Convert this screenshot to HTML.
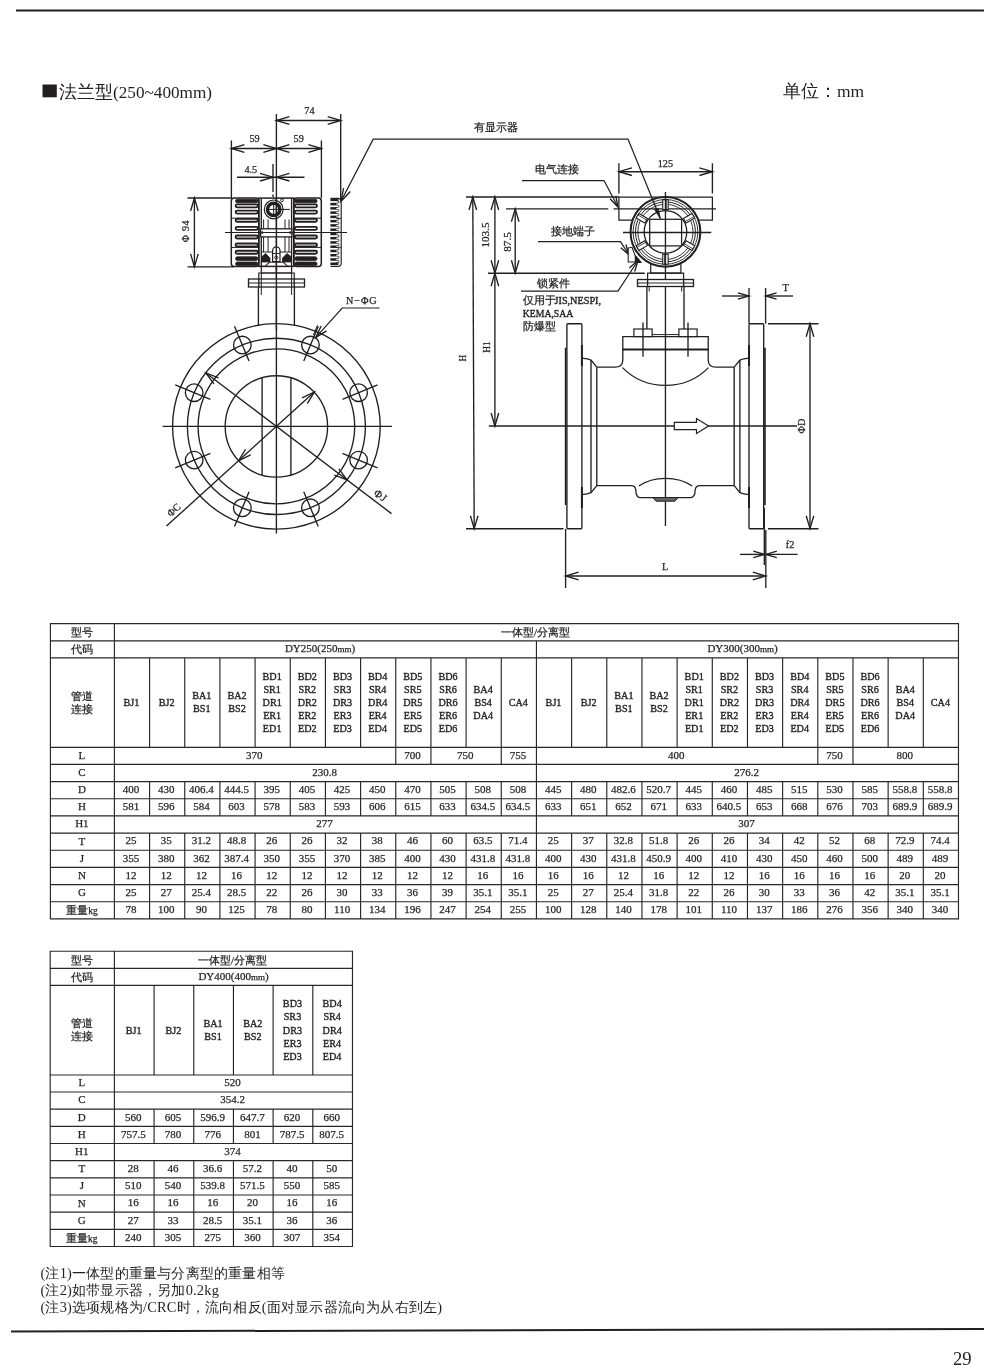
<!DOCTYPE html>
<html><head><meta charset="utf-8"><title>p29</title>
<style>
html,body{margin:0;padding:0;background:#fff;}
body{width:1000px;height:1372px;position:relative;overflow:hidden;font-family:"Liberation Serif",serif;color:#231f20;}
.abs{position:absolute;}
.title{left:59px;top:80.5px;font-size:17.2px;line-height:22px;white-space:nowrap;}
.unit{left:783px;top:80px;font-size:17.5px;line-height:22px;white-space:nowrap;}
.notes{left:40.5px;top:1265.3px;font-size:14.4px;line-height:17px;letter-spacing:0.2px;white-space:nowrap;}
.pg{left:953px;top:1349px;font-size:18.6px;line-height:20px;}
svg text{font-family:"Liberation Serif",serif;fill:#231f20;}
</style></head>
<body>
<div id="wrap" style="position:absolute;left:0;top:0;width:1000px;height:1372px;will-change:transform;">
<svg class="abs" style="left:0;top:0" width="1000" height="1372" viewBox="0 0 1000 1372">
<line x1="16" y1="10.5" x2="984" y2="10.5" stroke="#231f20" stroke-width="2"/>
<line x1="11" y1="1331.5" x2="984" y2="1329" stroke="#231f20" stroke-width="2"/>
<rect x="42.5" y="84.5" width="14.3" height="12.8" fill="#231f20"/>
<g stroke="#231f20" fill="none" stroke-linecap="butt" stroke-linejoin="miter">
<line x1="276.40" y1="114.00" x2="276.40" y2="533.50" stroke-width="1.35"/>
<line x1="340.70" y1="114.00" x2="340.70" y2="199.50" stroke-width="1.35"/>
<line x1="276.40" y1="120.50" x2="340.70" y2="120.50" stroke-width="1.35"/>
<path d="M289.40 116.70L276.40 120.50L289.40 124.30" stroke-width="1.35" fill="none"/>
<path d="M327.70 124.30L340.70 120.50L327.70 116.70" stroke-width="1.35" fill="none"/>
<text transform="translate(309.40,113.60)" font-size="10.2" text-anchor="middle" stroke-width="0.25">74</text>
<line x1="231.40" y1="140.50" x2="231.40" y2="198.00" stroke-width="1.35"/>
<line x1="321.40" y1="140.50" x2="321.40" y2="198.00" stroke-width="1.35"/>
<line x1="231.40" y1="148.50" x2="276.40" y2="148.50" stroke-width="1.35"/>
<path d="M244.40 144.70L231.40 148.50L244.40 152.30" stroke-width="1.35" fill="none"/>
<path d="M263.40 152.30L276.40 148.50L263.40 144.70" stroke-width="1.35" fill="none"/>
<line x1="276.40" y1="148.50" x2="321.40" y2="148.50" stroke-width="1.35"/>
<path d="M289.40 144.70L276.40 148.50L289.40 152.30" stroke-width="1.35" fill="none"/>
<path d="M308.40 152.30L321.40 148.50L308.40 144.70" stroke-width="1.35" fill="none"/>
<text transform="translate(254.50,142.00)" font-size="10.2" text-anchor="middle" stroke-width="0.25">59</text>
<text transform="translate(298.70,142.00)" font-size="10.2" text-anchor="middle" stroke-width="0.25">59</text>
<line x1="237.00" y1="177.20" x2="304.50" y2="177.20" stroke-width="1.35"/>
<path d="M260.00 181.00L273.00 177.20L260.00 173.40" stroke-width="1.35" fill="none"/>
<path d="M289.40 173.40L276.40 177.20L289.40 181.00" stroke-width="1.35" fill="none"/>
<line x1="273.00" y1="164.00" x2="273.00" y2="192.00" stroke-width="1.35"/>
<line x1="273.00" y1="194.50" x2="273.00" y2="197.00" stroke-width="1.35"/>
<text transform="translate(250.80,172.50)" font-size="10.2" text-anchor="middle" stroke-width="0.25">4.5</text>
<line x1="187.50" y1="198.00" x2="232.00" y2="198.00" stroke-width="1.35"/>
<line x1="187.50" y1="266.90" x2="234.00" y2="266.90" stroke-width="1.35"/>
<line x1="194.40" y1="198.00" x2="194.40" y2="266.90" stroke-width="1.35"/>
<path d="M198.20 211.00L194.40 198.00L190.60 211.00" stroke-width="1.35" fill="none"/>
<path d="M190.60 253.90L194.40 266.90L198.20 253.90" stroke-width="1.35" fill="none"/>
<text transform="translate(189,231) rotate(-90)" font-size="10" text-anchor="middle" stroke-width="0.25" letter-spacing="0.7">Φ 94</text>
<line x1="225.00" y1="232.50" x2="347.00" y2="232.50" stroke-width="1.1"/>
<rect x="231.30" y="198.10" width="27.50" height="68.30" rx="3" stroke-width="1.5" fill="none"/>
<line x1="231.30" y1="218.20" x2="258.80" y2="218.20" stroke-width="1.0"/>
<line x1="231.30" y1="247.40" x2="258.80" y2="247.40" stroke-width="1.0"/>
<rect x="235.60" y="199.20" width="22.20" height="3.60" rx="1.6" stroke-width="0.8" fill="#231f20"/>
<rect x="235.60" y="256.80" width="22.20" height="3.60" rx="1.6" stroke-width="0.8" fill="#231f20"/>
<rect x="235.60" y="262.00" width="22.20" height="3.60" rx="1.6" stroke-width="0.8" fill="#231f20"/>
<rect x="235.60" y="204.30" width="22.20" height="3.00" rx="1.5" stroke-width="1.85" fill="none"/>
<rect x="235.60" y="210.60" width="22.20" height="3.00" rx="1.5" stroke-width="1.85" fill="none"/>
<rect x="235.60" y="218.70" width="22.20" height="3.00" rx="1.5" stroke-width="1.85" fill="none"/>
<rect x="235.60" y="226.80" width="22.20" height="3.00" rx="1.5" stroke-width="1.85" fill="none"/>
<rect x="235.60" y="235.50" width="22.20" height="3.00" rx="1.5" stroke-width="1.85" fill="none"/>
<rect x="235.60" y="243.50" width="22.20" height="3.00" rx="1.5" stroke-width="1.85" fill="none"/>
<rect x="235.60" y="250.70" width="22.20" height="3.00" rx="1.5" stroke-width="1.85" fill="none"/>
<rect x="293.80" y="198.10" width="27.50" height="68.30" rx="3" stroke-width="1.5" fill="none"/>
<line x1="293.80" y1="218.20" x2="321.30" y2="218.20" stroke-width="1.0"/>
<line x1="293.80" y1="247.40" x2="321.30" y2="247.40" stroke-width="1.0"/>
<rect x="294.80" y="199.20" width="22.20" height="3.60" rx="1.6" stroke-width="0.8" fill="#231f20"/>
<rect x="294.80" y="256.80" width="22.20" height="3.60" rx="1.6" stroke-width="0.8" fill="#231f20"/>
<rect x="294.80" y="262.00" width="22.20" height="3.60" rx="1.6" stroke-width="0.8" fill="#231f20"/>
<rect x="294.80" y="204.30" width="22.20" height="3.00" rx="1.5" stroke-width="1.85" fill="none"/>
<rect x="294.80" y="210.60" width="22.20" height="3.00" rx="1.5" stroke-width="1.85" fill="none"/>
<rect x="294.80" y="218.70" width="22.20" height="3.00" rx="1.5" stroke-width="1.85" fill="none"/>
<rect x="294.80" y="226.80" width="22.20" height="3.00" rx="1.5" stroke-width="1.85" fill="none"/>
<rect x="294.80" y="235.50" width="22.20" height="3.00" rx="1.5" stroke-width="1.85" fill="none"/>
<rect x="294.80" y="243.50" width="22.20" height="3.00" rx="1.5" stroke-width="1.85" fill="none"/>
<rect x="294.80" y="250.70" width="22.20" height="3.00" rx="1.5" stroke-width="1.85" fill="none"/>
<rect x="258.80" y="198.10" width="35.00" height="68.30" rx="0" stroke-width="1.5" fill="none"/>
<line x1="261.30" y1="199.00" x2="261.30" y2="266.00" stroke-width="1.35"/>
<line x1="291.60" y1="199.00" x2="291.60" y2="266.00" stroke-width="1.35"/>
<circle cx="273.70" cy="209.40" r="9.40" stroke-width="1.2" fill="none"/>
<circle cx="273.70" cy="209.40" r="6.20" stroke-width="3.4" fill="none"/>
<line x1="273.70" y1="203.00" x2="273.70" y2="216.00" stroke-width="1.0"/>
<line x1="266.00" y1="209.40" x2="290.00" y2="209.40" stroke-width="1.0"/>
<circle cx="282.00" cy="200.20" r="1.40" stroke-width="0.9" fill="none"/>
<line x1="263.60" y1="219.50" x2="263.60" y2="252.00" stroke-width="1.0"/>
<line x1="268.10" y1="219.50" x2="268.10" y2="252.00" stroke-width="1.0"/>
<line x1="285.00" y1="219.50" x2="285.00" y2="252.00" stroke-width="1.0"/>
<line x1="289.00" y1="219.50" x2="289.00" y2="252.00" stroke-width="1.0"/>
<rect x="260.60" y="228.80" width="31.30" height="8.10" rx="0" stroke-width="1.3" fill="#fff"/>
<line x1="262.00" y1="232.50" x2="290.50" y2="232.50" stroke-width="1.0"/>
<circle cx="262.20" cy="232.50" r="0.90" stroke-width="0.8" fill="#231f20"/>
<circle cx="290.30" cy="232.50" r="0.90" stroke-width="0.8" fill="#231f20"/>
<line x1="276.40" y1="198.00" x2="276.40" y2="270.00" stroke-width="1.35"/>
<line x1="261.30" y1="252.00" x2="291.60" y2="252.00" stroke-width="1.0"/>
<path d="M261.5 262L261.5 257L265.5 253.5L270 258L270 262Z" stroke-width="0.8" fill="#231f20"/>
<path d="M282.5 262L282.5 258L287 253.5L291.5 257L291.5 262Z" stroke-width="0.8" fill="#231f20"/>
<path d="M272.6 261.5V250.5A3.7 3.7 0 0 1 280 250.5V261.5Z" stroke-width="1.2" fill="#fff"/>
<line x1="276.30" y1="247.00" x2="276.30" y2="262.00" stroke-width="1.35"/>
<line x1="272.60" y1="253.50" x2="280.00" y2="253.50" stroke-width="0.9"/>
<circle cx="276.30" cy="257.50" r="1.60" stroke-width="0.9" fill="none"/>
<path d="M261.3 266.3L265 266.3L269.5 262.3H283.3L287.8 266.3L291.6 266.3" stroke-width="1.1" fill="none"/>
<path d="M261.3 266.3V273H291.6V266.3" stroke-width="1.2" fill="none"/>
<path d="M258.8 279V273H294.2V279" stroke-width="1.2" fill="none"/>
<rect x="248.50" y="279.00" width="56.00" height="8.00" rx="0" stroke-width="1.3" fill="#fff"/>
<line x1="248.50" y1="283.00" x2="304.50" y2="283.00" stroke-width="1.0"/>
<line x1="258.80" y1="279.00" x2="258.80" y2="287.00" stroke-width="1.35"/>
<line x1="294.20" y1="279.00" x2="294.20" y2="287.00" stroke-width="1.35"/>
<line x1="261.30" y1="273.00" x2="261.30" y2="295.00" stroke-width="1.0"/>
<line x1="291.60" y1="273.00" x2="291.60" y2="295.00" stroke-width="1.0"/>
<line x1="276.40" y1="266.00" x2="276.40" y2="330.00" stroke-width="1.35"/>
<line x1="258.40" y1="287.00" x2="258.40" y2="325.50" stroke-width="1.35"/>
<line x1="294.40" y1="287.00" x2="294.40" y2="325.50" stroke-width="1.35"/>
<path d="M330.6 198.4H337.8Q341.2 198.4 341.2 202V263Q341.2 266.4 337.8 266.4H330.6" stroke-width="1.15" fill="none"/>
<path d="M336 218.3L341.2 218.3" stroke-width="0.9" fill="none"/>
<path d="M336 247.3L341.2 247.3" stroke-width="0.9" fill="none"/>
<rect x="330.40" y="198.60" width="8.00" height="2.50" rx="0" stroke-width="0" fill="#231f20"/>
<path d="M336 200.70H337.2Q339 200.70 339 201.98Q339 203.26 337.2 203.26H336" stroke-width="0.9" fill="none"/>
<rect x="330.40" y="202.86" width="5.60" height="2.50" rx="0" stroke-width="0" fill="#231f20"/>
<path d="M336 204.96H337.2Q339 204.96 339 206.24Q339 207.52 337.2 207.52H336" stroke-width="0.9" fill="none"/>
<rect x="330.40" y="207.12" width="5.60" height="2.50" rx="0" stroke-width="0" fill="#231f20"/>
<path d="M336 209.22H337.2Q339 209.22 339 210.50Q339 211.78 337.2 211.78H336" stroke-width="0.9" fill="none"/>
<rect x="330.40" y="211.38" width="5.60" height="2.50" rx="0" stroke-width="0" fill="#231f20"/>
<path d="M336 213.48H337.2Q339 213.48 339 214.76Q339 216.04 337.2 216.04H336" stroke-width="0.9" fill="none"/>
<rect x="330.40" y="215.64" width="5.60" height="2.50" rx="0" stroke-width="0" fill="#231f20"/>
<path d="M336 217.74H337.2Q339 217.74 339 219.02Q339 220.30 337.2 220.30H336" stroke-width="0.9" fill="none"/>
<rect x="330.40" y="219.90" width="5.60" height="2.50" rx="0" stroke-width="0" fill="#231f20"/>
<path d="M336 222.00H337.2Q339 222.00 339 223.28Q339 224.56 337.2 224.56H336" stroke-width="0.9" fill="none"/>
<rect x="330.40" y="224.16" width="5.60" height="2.50" rx="0" stroke-width="0" fill="#231f20"/>
<path d="M336 226.26H337.2Q339 226.26 339 227.54Q339 228.82 337.2 228.82H336" stroke-width="0.9" fill="none"/>
<rect x="330.40" y="228.42" width="5.60" height="2.50" rx="0" stroke-width="0" fill="#231f20"/>
<path d="M336 230.52H337.2Q339 230.52 339 231.80Q339 233.08 337.2 233.08H336" stroke-width="0.9" fill="none"/>
<rect x="330.40" y="232.68" width="5.60" height="2.50" rx="0" stroke-width="0" fill="#231f20"/>
<path d="M336 234.78H337.2Q339 234.78 339 236.06Q339 237.34 337.2 237.34H336" stroke-width="0.9" fill="none"/>
<rect x="330.40" y="236.94" width="5.60" height="2.50" rx="0" stroke-width="0" fill="#231f20"/>
<path d="M336 239.04H337.2Q339 239.04 339 240.32Q339 241.60 337.2 241.60H336" stroke-width="0.9" fill="none"/>
<rect x="330.40" y="241.20" width="5.60" height="2.50" rx="0" stroke-width="0" fill="#231f20"/>
<path d="M336 243.30H337.2Q339 243.30 339 244.58Q339 245.86 337.2 245.86H336" stroke-width="0.9" fill="none"/>
<rect x="330.40" y="245.46" width="5.60" height="2.50" rx="0" stroke-width="0" fill="#231f20"/>
<path d="M336 247.56H337.2Q339 247.56 339 248.84Q339 250.12 337.2 250.12H336" stroke-width="0.9" fill="none"/>
<rect x="330.40" y="249.72" width="5.60" height="2.50" rx="0" stroke-width="0" fill="#231f20"/>
<path d="M336 251.82H337.2Q339 251.82 339 253.10Q339 254.38 337.2 254.38H336" stroke-width="0.9" fill="none"/>
<rect x="330.40" y="253.98" width="5.60" height="2.50" rx="0" stroke-width="0" fill="#231f20"/>
<path d="M336 256.08H337.2Q339 256.08 339 257.36Q339 258.64 337.2 258.64H336" stroke-width="0.9" fill="none"/>
<rect x="330.40" y="258.24" width="5.60" height="2.50" rx="0" stroke-width="0" fill="#231f20"/>
<path d="M336 260.34H337.2Q339 260.34 339 261.62Q339 262.90 337.2 262.90H336" stroke-width="0.9" fill="none"/>
<rect x="330.40" y="262.50" width="8.00" height="2.50" rx="0" stroke-width="0" fill="#231f20"/>
<ellipse cx="276.40" cy="426.40" rx="103.80" ry="102.76" stroke-width="1.35"/>
<ellipse cx="276.40" cy="426.40" rx="89.00" ry="88.11" stroke-width="1.35"/>
<ellipse cx="276.40" cy="426.40" rx="78.30" ry="77.52" stroke-width="1.35"/>
<ellipse cx="276.40" cy="426.40" rx="51.20" ry="50.69" stroke-width="1.35"/>
<line x1="262.10" y1="377.80" x2="262.10" y2="475.20" stroke-width="1.35"/>
<line x1="290.90" y1="377.80" x2="290.90" y2="475.20" stroke-width="1.35"/>
<line x1="162.60" y1="426.40" x2="392.00" y2="426.40" stroke-width="1.35"/>
<circle cx="310.46" cy="345.00" r="8.80" stroke-width="1.35" fill="none"/>
<line x1="303.76" y1="361.00" x2="318.30" y2="326.25" stroke-width="1.35"/>
<circle cx="358.63" cy="392.68" r="8.80" stroke-width="1.35" fill="none"/>
<line x1="342.46" y1="399.31" x2="377.56" y2="384.92" stroke-width="1.35"/>
<circle cx="358.63" cy="460.12" r="8.80" stroke-width="1.35" fill="none"/>
<line x1="342.46" y1="453.49" x2="377.56" y2="467.88" stroke-width="1.35"/>
<circle cx="310.46" cy="507.80" r="8.80" stroke-width="1.35" fill="none"/>
<line x1="303.76" y1="491.80" x2="318.30" y2="526.55" stroke-width="1.35"/>
<circle cx="242.34" cy="507.80" r="8.80" stroke-width="1.35" fill="none"/>
<line x1="249.04" y1="491.80" x2="234.50" y2="526.55" stroke-width="1.35"/>
<circle cx="194.17" cy="460.12" r="8.80" stroke-width="1.35" fill="none"/>
<line x1="210.34" y1="453.49" x2="175.24" y2="467.88" stroke-width="1.35"/>
<circle cx="194.17" cy="392.68" r="8.80" stroke-width="1.35" fill="none"/>
<line x1="210.34" y1="399.31" x2="175.24" y2="384.92" stroke-width="1.35"/>
<circle cx="242.34" cy="345.00" r="8.80" stroke-width="1.35" fill="none"/>
<line x1="249.04" y1="361.00" x2="234.50" y2="326.25" stroke-width="1.35"/>
<line x1="166.50" y1="526.05" x2="314.33" y2="392.01" stroke-width="1.35"/>
<path d="M307.25 403.56L314.33 392.01L302.15 397.93" stroke-width="1.35" fill="none"/>
<path d="M245.55 449.24L238.47 460.79L250.65 454.87" stroke-width="1.35" fill="none"/>
<text transform="translate(176.00,512.50) rotate(-42)" font-size="10.2" text-anchor="middle" stroke-width="0.25">ΦC</text>
<line x1="205.85" y1="372.96" x2="391.50" y2="513.59" stroke-width="1.35"/>
<path d="M218.51 377.78L205.85 372.96L213.92 383.84" stroke-width="1.35" fill="none"/>
<path d="M334.29 475.02L346.95 479.84L338.88 468.96" stroke-width="1.35" fill="none"/>
<text transform="translate(378.5,498.5) rotate(37)" font-size="10.8" text-anchor="middle" stroke-width="0.25" letter-spacing="0.8">ΦJ</text>
<path d="M379.5 308H342.2L315.8 337.4" stroke-width="1.2" fill="none"/>
<path d="M321.15 326.07L315.80 337.40L326.50 330.89" stroke-width="1.35" fill="none"/>
<line x1="317.50" y1="325.20" x2="313.30" y2="335.20" stroke-width="1.0"/>
<text x="361.8" y="303.8" font-size="10.2" text-anchor="middle" stroke-width="0.25" letter-spacing="0.9">N−ΦG</text>
<line x1="618.90" y1="163.30" x2="618.90" y2="193.50" stroke-width="1.35"/>
<line x1="712.40" y1="163.30" x2="712.40" y2="193.50" stroke-width="1.35"/>
<line x1="618.90" y1="171.70" x2="712.40" y2="171.70" stroke-width="1.35"/>
<path d="M631.90 167.90L618.90 171.70L631.90 175.50" stroke-width="1.35" fill="none"/>
<path d="M699.40 175.50L712.40 171.70L699.40 167.90" stroke-width="1.35" fill="none"/>
<text transform="translate(665.40,166.80)" font-size="10.2" text-anchor="middle" stroke-width="0.25">125</text>
<path d="M696.6 220H712.4V197H618.9V220H634.3" stroke-width="1.25" fill="none"/>
<line x1="466.00" y1="197.00" x2="618.90" y2="197.00" stroke-width="1.35"/>
<line x1="506.00" y1="208.80" x2="608.30" y2="208.80" stroke-width="1.35"/>
<circle cx="665.45" cy="231.90" r="34.90" stroke-width="2.0" fill="#fff"/>
<circle cx="665.45" cy="231.90" r="32.40" stroke-width="0.9" fill="none"/>
<circle cx="665.45" cy="231.90" r="30.00" stroke-width="1.0" fill="none"/>
<circle cx="665.45" cy="231.90" r="27.60" stroke-width="0.9" fill="none"/>
<circle cx="665.45" cy="231.90" r="21.30" stroke-width="1.3" fill="none"/>
<line x1="613.50" y1="208.80" x2="716.00" y2="208.80" stroke-width="1.35"/>
<path d="M668.15 209.60L668.15 199.60L662.75 199.60L662.75 209.60Z" stroke-width="1.1" fill="#fff"/>
<line x1="666.35" y1="209.60" x2="666.35" y2="199.60" stroke-width="0.8"/>
<path d="M686.11 223.09L694.77 218.09L692.07 213.41L683.41 218.41Z" stroke-width="1.1" fill="#fff"/>
<line x1="685.21" y1="221.53" x2="693.87" y2="216.53" stroke-width="0.8"/>
<path d="M683.41 245.39L692.07 250.39L694.77 245.71L686.11 240.71Z" stroke-width="1.1" fill="#fff"/>
<line x1="684.31" y1="243.83" x2="692.97" y2="248.83" stroke-width="0.8"/>
<path d="M662.75 254.20L662.75 264.20L668.15 264.20L668.15 254.20Z" stroke-width="1.1" fill="#fff"/>
<line x1="664.55" y1="254.20" x2="664.55" y2="264.20" stroke-width="0.8"/>
<path d="M644.79 240.71L636.13 245.71L638.83 250.39L647.49 245.39Z" stroke-width="1.1" fill="#fff"/>
<line x1="645.69" y1="242.27" x2="637.03" y2="247.27" stroke-width="0.8"/>
<path d="M647.49 218.41L638.83 213.41L636.13 218.09L644.79 223.09Z" stroke-width="1.1" fill="#fff"/>
<line x1="646.59" y1="219.97" x2="637.93" y2="214.97" stroke-width="0.8"/>
<rect x="649.70" y="219.30" width="31.90" height="26.60" rx="0" stroke-width="1.25" fill="none"/>
<line x1="623.00" y1="232.50" x2="711.30" y2="232.50" stroke-width="1.35"/>
<line x1="665.45" y1="192.00" x2="665.45" y2="526.00" stroke-width="1.35"/>
<line x1="472.80" y1="197.00" x2="474.20" y2="528.70" stroke-width="1.35"/>
<path d="M476.60 210.00L472.80 197.00L469.00 210.00" stroke-width="1.35" fill="none"/>
<path d="M470.40 515.70L474.20 528.70L478.00 515.70" stroke-width="1.35" fill="none"/>
<line x1="466.00" y1="528.70" x2="563.50" y2="528.70" stroke-width="1.35"/>
<line x1="494.90" y1="197.00" x2="494.90" y2="273.20" stroke-width="1.35"/>
<path d="M498.70 210.00L494.90 197.00L491.10 210.00" stroke-width="1.35" fill="none"/>
<path d="M491.10 260.20L494.90 273.20L498.70 260.20" stroke-width="1.35" fill="none"/>
<line x1="488.00" y1="273.20" x2="644.80" y2="273.20" stroke-width="1.35"/>
<line x1="515.20" y1="208.80" x2="515.20" y2="273.20" stroke-width="1.35"/>
<path d="M519.00 221.80L515.20 208.80L511.40 221.80" stroke-width="1.35" fill="none"/>
<path d="M511.40 260.20L515.20 273.20L519.00 260.20" stroke-width="1.35" fill="none"/>
<line x1="494.90" y1="273.20" x2="494.90" y2="426.00" stroke-width="1.35"/>
<path d="M498.70 286.20L494.90 273.20L491.10 286.20" stroke-width="1.35" fill="none"/>
<path d="M491.10 413.00L494.90 426.00L498.70 413.00" stroke-width="1.35" fill="none"/>
<text transform="translate(489.30,235.00) rotate(-90)" font-size="11.2" text-anchor="middle" stroke-width="0.25">103.5</text>
<text transform="translate(510.90,242.00) rotate(-90)" font-size="11.2" text-anchor="middle" stroke-width="0.25">87.5</text>
<text transform="translate(466.00,358.10) rotate(-90) scale(0.8,1)" font-size="11.4" text-anchor="middle" stroke-width="0.25">H</text>
<text transform="translate(490.00,347.10) rotate(-90) scale(0.82,1)" font-size="11.4" text-anchor="middle" stroke-width="0.25">H1</text>
<line x1="488.80" y1="426.00" x2="797.00" y2="426.00" stroke-width="1.35"/>
<path d="M522 180.5H604L618 207" stroke-width="1.25" fill="none"/>
<path d="M610.08 198.72L618.00 207.00L615.76 195.77" stroke-width="1.35" fill="none"/>
<path d="M538 241.6H620.5L628.7 254.5" stroke-width="1.25" fill="none"/>
<path d="M620.80 247.68L628.70 254.50L625.86 244.45" stroke-width="1.35" fill="none"/>
<path d="M521 291.2H618L638 260.5" stroke-width="1.2" fill="none"/>
<path d="M634.69 271.47L638.00 260.50L629.33 267.98" stroke-width="1.35" fill="none"/>
<text transform="translate(535.00,172.70)" font-size="10.5" text-anchor="start" stroke-width="0.25">电气连接</text>
<text transform="translate(550.50,235.00)" font-size="10.5" text-anchor="start" stroke-width="0.25">接地端子</text>
<text transform="translate(537.00,286.80)" font-size="10.5" text-anchor="start" stroke-width="0.25">锁紧件</text>
<text transform="translate(522.50,304.00)" font-size="10.5" text-anchor="start" stroke-width="0.25">仅用于</text>
<text transform="translate(554.5,304.4) scale(0.93,1)" font-size="11" stroke-width="0.4">JIS,NESPI,</text>
<text transform="translate(522.8,316.8) scale(0.885,1)" font-size="11" stroke-width="0.4">KEMA,SAA</text>
<text transform="translate(522.50,329.50)" font-size="10.5" text-anchor="start" stroke-width="0.25">防爆型</text>
<text transform="translate(473.50,131.00)" font-size="10.5" text-anchor="start" stroke-width="0.25">有显示器</text>
<path d="M628.2 248L632 247.3L635.3 256V262L628.2 262Z" stroke-width="1.1" fill="#fff"/>
<path d="M635.5 255.5L641.5 262.5L635.5 262.5Z" stroke-width="1.0" fill="#231f20"/>
<path d="M650.7 263V273.2H680.9V263" stroke-width="1.2" fill="none"/>
<path d="M647.6 279.5V273.2H683.6V279.5" stroke-width="1.2" fill="none"/>
<rect x="637.50" y="279.50" width="56.00" height="7.00" rx="0" stroke-width="1.3" fill="#fff"/>
<line x1="637.50" y1="283.00" x2="693.50" y2="283.00" stroke-width="1.0"/>
<line x1="647.60" y1="279.50" x2="647.60" y2="287.00" stroke-width="1.35"/>
<line x1="683.60" y1="279.50" x2="683.60" y2="287.00" stroke-width="1.35"/>
<line x1="646.90" y1="286.50" x2="646.90" y2="336.00" stroke-width="1.35"/>
<line x1="684.00" y1="286.50" x2="684.00" y2="336.00" stroke-width="1.35"/>
<line x1="649.20" y1="286.50" x2="649.20" y2="291.50" stroke-width="1.0"/>
<line x1="681.70" y1="286.50" x2="681.70" y2="291.50" stroke-width="1.0"/>
<rect x="633.90" y="329.00" width="18.20" height="7.60" rx="0" stroke-width="1.2" fill="#fff"/>
<line x1="643.00" y1="322.50" x2="643.00" y2="356.80" stroke-width="1.35"/>
<rect x="678.90" y="329.00" width="18.20" height="7.60" rx="0" stroke-width="1.2" fill="#fff"/>
<line x1="688.00" y1="322.50" x2="688.00" y2="356.80" stroke-width="1.35"/>
<line x1="652.10" y1="334.60" x2="678.90" y2="334.60" stroke-width="1.0"/>
<path d="M622.8 349.5V336.6H708.2V349.5" stroke-width="1.3" fill="none"/>
<line x1="622.20" y1="349.50" x2="708.80" y2="349.50" stroke-width="2.2"/>
<path d="M581.9 358.1Q588 358.6 591 360L596.8 367.2H615Q622.8 367.2 622.8 360V349.5" stroke-width="1.3" fill="none"/>
<path d="M749 358.1Q743 358.6 739.9 360L734.2 367.2H716Q708.2 367.2 708.2 360V349.5" stroke-width="1.3" fill="none"/>
<path d="M622.5 367.6Q640 385.4 665.45 385.4Q691 385.4 708.5 367.6" stroke-width="1.3" fill="none"/>
<path d="M581.9 494.6Q588 494 591 492.6L596.8 485.6H631Q635.5 485.6 635.8 490Q636 497.6 640 497.6H690.5Q695 497.6 695.2 490Q695.5 485.6 700 485.6H734.2L739.9 492.6Q743 494 749 494.6" stroke-width="1.3" fill="none"/>
<path d="M638.8 486Q650 478.4 665.45 478.4Q681 478.4 692.2 486" stroke-width="1.3" fill="none"/>
<path d="M653 497.6H678L675 501.2H656Z" stroke-width="1.0" fill="#6b6768"/>
<line x1="591.00" y1="360.00" x2="591.00" y2="492.60" stroke-width="1.35"/>
<line x1="596.80" y1="367.20" x2="596.80" y2="485.60" stroke-width="1.35"/>
<line x1="739.90" y1="360.00" x2="739.90" y2="492.60" stroke-width="1.35"/>
<line x1="734.20" y1="367.20" x2="734.20" y2="485.60" stroke-width="1.35"/>
<rect x="566.90" y="323.70" width="15.00" height="205.00" rx="1.0" stroke-width="1.35" fill="none"/>
<rect x="749.00" y="323.70" width="14.70" height="205.00" rx="1.0" stroke-width="1.35" fill="none"/>
<line x1="565.60" y1="347.70" x2="565.60" y2="505.00" stroke-width="1.6"/>
<line x1="765.00" y1="347.70" x2="765.00" y2="505.00" stroke-width="1.6"/>
<line x1="581.90" y1="345.00" x2="581.90" y2="366.00" stroke-width="2.0"/>
<line x1="581.90" y1="487.00" x2="581.90" y2="508.00" stroke-width="2.0"/>
<line x1="749.00" y1="345.00" x2="749.00" y2="366.00" stroke-width="2.0"/>
<line x1="749.00" y1="487.00" x2="749.00" y2="508.00" stroke-width="2.0"/>
<path d="M674.3 422.4H696.5V418.5L708.5 426L696.5 433.5V429.6H674.3Z" stroke-width="1.2" fill="#fff"/>
<line x1="749.00" y1="288.00" x2="749.00" y2="323.70" stroke-width="1.35"/>
<line x1="765.60" y1="288.00" x2="765.60" y2="323.70" stroke-width="1.35"/>
<line x1="722.00" y1="296.00" x2="749.00" y2="296.00" stroke-width="1.35"/>
<line x1="765.60" y1="296.00" x2="793.00" y2="296.00" stroke-width="1.35"/>
<path d="M738.00 299.20L749.00 296.00L738.00 292.80" stroke-width="1.35" fill="none"/>
<path d="M776.60 292.80L765.60 296.00L776.60 299.20" stroke-width="1.35" fill="none"/>
<text transform="translate(785.50,291.00)" font-size="10.2" text-anchor="middle" stroke-width="0.25">T</text>
<line x1="768.00" y1="323.70" x2="818.50" y2="323.70" stroke-width="1.35"/>
<line x1="768.00" y1="528.70" x2="818.50" y2="528.70" stroke-width="1.35"/>
<line x1="810.00" y1="323.70" x2="810.00" y2="528.70" stroke-width="1.35"/>
<path d="M813.80 336.70L810.00 323.70L806.20 336.70" stroke-width="1.35" fill="none"/>
<path d="M806.20 515.70L810.00 528.70L813.80 515.70" stroke-width="1.35" fill="none"/>
<text transform="translate(804.50,426.00) rotate(-90)" font-size="10.2" text-anchor="middle" stroke-width="0.25">ΦD</text>
<line x1="764.30" y1="508.00" x2="764.30" y2="565.00" stroke-width="1.35"/>
<line x1="765.80" y1="530.00" x2="765.80" y2="588.00" stroke-width="1.35"/>
<line x1="740.00" y1="554.40" x2="764.30" y2="554.40" stroke-width="1.35"/>
<line x1="765.80" y1="554.40" x2="797.60" y2="554.40" stroke-width="1.35"/>
<path d="M753.30 557.60L764.30 554.40L753.30 551.20" stroke-width="1.35" fill="none"/>
<path d="M776.80 551.20L765.80 554.40L776.80 557.60" stroke-width="1.35" fill="none"/>
<text transform="translate(790.00,548.00)" font-size="10.2" text-anchor="middle" stroke-width="0.25">f2</text>
<line x1="565.60" y1="529.00" x2="565.60" y2="588.00" stroke-width="1.35"/>
<line x1="565.60" y1="576.00" x2="765.80" y2="576.00" stroke-width="1.35"/>
<path d="M578.60 572.20L565.60 576.00L578.60 579.80" stroke-width="1.35" fill="none"/>
<path d="M752.80 579.80L765.80 576.00L752.80 572.20" stroke-width="1.35" fill="none"/>
<text transform="translate(665.00,569.60)" font-size="10.2" text-anchor="middle" stroke-width="0.25">L</text>
<path d="M341 201.3L373.2 139.1H628L660.3 218.5" stroke-width="1.25" fill="none"/>
<path d="M343.59 188.01L341.00 201.30L350.34 191.49" stroke-width="1.35" fill="none"/>
<path d="M660.3 218.5L654.3 209.3L658.2 208.2Z" stroke-width="0.8" fill="#231f20"/>
</g>
<path d="M49.90 623.60H958.98M49.90 640.80H958.98M49.90 657.80H958.98M49.90 747.40H958.98M49.90 764.40H958.98M49.90 781.57H958.98M49.90 798.74H958.98M49.90 815.91H958.98M49.90 833.08H958.98M49.90 850.25H958.98M49.90 867.42H958.98M49.90 884.59H958.98M49.90 901.76H958.98M49.90 918.93H958.98M50.40 623.60V918.93M114.40 623.60V918.93M958.48 623.60V918.93M536.44 640.80V657.80M149.57 657.80V747.40M184.74 657.80V747.40M219.91 657.80V747.40M255.08 657.80V747.40M290.25 657.80V747.40M325.42 657.80V747.40M360.59 657.80V747.40M395.76 657.80V747.40M430.93 657.80V747.40M466.10 657.80V747.40M501.27 657.80V747.40M536.44 657.80V747.40M571.61 657.80V747.40M606.78 657.80V747.40M641.95 657.80V747.40M677.12 657.80V747.40M712.29 657.80V747.40M747.46 657.80V747.40M782.63 657.80V747.40M817.80 657.80V747.40M852.97 657.80V747.40M888.14 657.80V747.40M923.31 657.80V747.40M395.76 747.40V764.40M430.93 747.40V764.40M501.27 747.40V764.40M536.44 747.40V764.40M817.80 747.40V764.40M852.97 747.40V764.40M536.44 764.40V781.57M149.57 781.57V798.74M184.74 781.57V798.74M219.91 781.57V798.74M255.08 781.57V798.74M290.25 781.57V798.74M325.42 781.57V798.74M360.59 781.57V798.74M395.76 781.57V798.74M430.93 781.57V798.74M466.10 781.57V798.74M501.27 781.57V798.74M536.44 781.57V798.74M571.61 781.57V798.74M606.78 781.57V798.74M641.95 781.57V798.74M677.12 781.57V798.74M712.29 781.57V798.74M747.46 781.57V798.74M782.63 781.57V798.74M817.80 781.57V798.74M852.97 781.57V798.74M888.14 781.57V798.74M923.31 781.57V798.74M149.57 798.74V815.91M184.74 798.74V815.91M219.91 798.74V815.91M255.08 798.74V815.91M290.25 798.74V815.91M325.42 798.74V815.91M360.59 798.74V815.91M395.76 798.74V815.91M430.93 798.74V815.91M466.10 798.74V815.91M501.27 798.74V815.91M536.44 798.74V815.91M571.61 798.74V815.91M606.78 798.74V815.91M641.95 798.74V815.91M677.12 798.74V815.91M712.29 798.74V815.91M747.46 798.74V815.91M782.63 798.74V815.91M817.80 798.74V815.91M852.97 798.74V815.91M888.14 798.74V815.91M923.31 798.74V815.91M536.44 815.91V833.08M149.57 833.08V850.25M184.74 833.08V850.25M219.91 833.08V850.25M255.08 833.08V850.25M290.25 833.08V850.25M325.42 833.08V850.25M360.59 833.08V850.25M395.76 833.08V850.25M430.93 833.08V850.25M466.10 833.08V850.25M501.27 833.08V850.25M536.44 833.08V850.25M571.61 833.08V850.25M606.78 833.08V850.25M641.95 833.08V850.25M677.12 833.08V850.25M712.29 833.08V850.25M747.46 833.08V850.25M782.63 833.08V850.25M817.80 833.08V850.25M852.97 833.08V850.25M888.14 833.08V850.25M923.31 833.08V850.25M149.57 850.25V867.42M184.74 850.25V867.42M219.91 850.25V867.42M255.08 850.25V867.42M290.25 850.25V867.42M325.42 850.25V867.42M360.59 850.25V867.42M395.76 850.25V867.42M430.93 850.25V867.42M466.10 850.25V867.42M501.27 850.25V867.42M536.44 850.25V867.42M571.61 850.25V867.42M606.78 850.25V867.42M641.95 850.25V867.42M677.12 850.25V867.42M712.29 850.25V867.42M747.46 850.25V867.42M782.63 850.25V867.42M817.80 850.25V867.42M852.97 850.25V867.42M888.14 850.25V867.42M923.31 850.25V867.42M149.57 867.42V884.59M184.74 867.42V884.59M219.91 867.42V884.59M255.08 867.42V884.59M290.25 867.42V884.59M325.42 867.42V884.59M360.59 867.42V884.59M395.76 867.42V884.59M430.93 867.42V884.59M466.10 867.42V884.59M501.27 867.42V884.59M536.44 867.42V884.59M571.61 867.42V884.59M606.78 867.42V884.59M641.95 867.42V884.59M677.12 867.42V884.59M712.29 867.42V884.59M747.46 867.42V884.59M782.63 867.42V884.59M817.80 867.42V884.59M852.97 867.42V884.59M888.14 867.42V884.59M923.31 867.42V884.59M149.57 884.59V901.76M184.74 884.59V901.76M219.91 884.59V901.76M255.08 884.59V901.76M290.25 884.59V901.76M325.42 884.59V901.76M360.59 884.59V901.76M395.76 884.59V901.76M430.93 884.59V901.76M466.10 884.59V901.76M501.27 884.59V901.76M536.44 884.59V901.76M571.61 884.59V901.76M606.78 884.59V901.76M641.95 884.59V901.76M677.12 884.59V901.76M712.29 884.59V901.76M747.46 884.59V901.76M782.63 884.59V901.76M817.80 884.59V901.76M852.97 884.59V901.76M888.14 884.59V901.76M923.31 884.59V901.76M149.57 901.76V918.93M184.74 901.76V918.93M219.91 901.76V918.93M255.08 901.76V918.93M290.25 901.76V918.93M325.42 901.76V918.93M360.59 901.76V918.93M395.76 901.76V918.93M430.93 901.76V918.93M466.10 901.76V918.93M501.27 901.76V918.93M536.44 901.76V918.93M571.61 901.76V918.93M606.78 901.76V918.93M641.95 901.76V918.93M677.12 901.76V918.93M712.29 901.76V918.93M747.46 901.76V918.93M782.63 901.76V918.93M817.80 901.76V918.93M852.97 901.76V918.93M888.14 901.76V918.93M923.31 901.76V918.93" fill="none" stroke="#2b2728" stroke-width="1.15"/>
<g stroke="#2b2728" stroke-width="0.25"><text x="81.90" y="636.30" font-size="10.5" text-anchor="middle">型号</text>
<text x="535.54" y="636.30" font-size="11" text-anchor="middle">一体型/分离型</text>
<text x="81.90" y="653.40" font-size="10.5" text-anchor="middle">代码</text>
<text x="320.02" y="652.10" font-size="11" text-anchor="middle">DY250(250<tspan font-size="9">mm</tspan>)</text>
<text x="742.56" y="652.10" font-size="11" text-anchor="middle">DY300(300<tspan font-size="9">mm</tspan>)</text>
<text x="82.40" y="699.75" font-size="10.5" text-anchor="middle">管道</text>
<text x="82.40" y="712.85" font-size="10.5" text-anchor="middle">连接</text>
<text transform="translate(131.49,705.90) scale(0.9,1)" font-size="11.3" text-anchor="middle" stroke-width="0.4">BJ1</text>
<text transform="translate(166.66,705.90) scale(0.9,1)" font-size="11.3" text-anchor="middle" stroke-width="0.4">BJ2</text>
<text transform="translate(201.83,699.35) scale(0.9,1)" font-size="11.3" text-anchor="middle" stroke-width="0.4">BA1</text>
<text transform="translate(201.83,712.45) scale(0.9,1)" font-size="11.3" text-anchor="middle" stroke-width="0.4">BS1</text>
<text transform="translate(237.00,699.35) scale(0.9,1)" font-size="11.3" text-anchor="middle" stroke-width="0.4">BA2</text>
<text transform="translate(237.00,712.45) scale(0.9,1)" font-size="11.3" text-anchor="middle" stroke-width="0.4">BS2</text>
<text transform="translate(272.17,679.70) scale(0.9,1)" font-size="11.3" text-anchor="middle" stroke-width="0.4">BD1</text>
<text transform="translate(272.17,692.80) scale(0.9,1)" font-size="11.3" text-anchor="middle" stroke-width="0.4">SR1</text>
<text transform="translate(272.17,705.90) scale(0.9,1)" font-size="11.3" text-anchor="middle" stroke-width="0.4">DR1</text>
<text transform="translate(272.17,719.00) scale(0.9,1)" font-size="11.3" text-anchor="middle" stroke-width="0.4">ER1</text>
<text transform="translate(272.17,732.10) scale(0.9,1)" font-size="11.3" text-anchor="middle" stroke-width="0.4">ED1</text>
<text transform="translate(307.34,679.70) scale(0.9,1)" font-size="11.3" text-anchor="middle" stroke-width="0.4">BD2</text>
<text transform="translate(307.34,692.80) scale(0.9,1)" font-size="11.3" text-anchor="middle" stroke-width="0.4">SR2</text>
<text transform="translate(307.34,705.90) scale(0.9,1)" font-size="11.3" text-anchor="middle" stroke-width="0.4">DR2</text>
<text transform="translate(307.34,719.00) scale(0.9,1)" font-size="11.3" text-anchor="middle" stroke-width="0.4">ER2</text>
<text transform="translate(307.34,732.10) scale(0.9,1)" font-size="11.3" text-anchor="middle" stroke-width="0.4">ED2</text>
<text transform="translate(342.50,679.70) scale(0.9,1)" font-size="11.3" text-anchor="middle" stroke-width="0.4">BD3</text>
<text transform="translate(342.50,692.80) scale(0.9,1)" font-size="11.3" text-anchor="middle" stroke-width="0.4">SR3</text>
<text transform="translate(342.50,705.90) scale(0.9,1)" font-size="11.3" text-anchor="middle" stroke-width="0.4">DR3</text>
<text transform="translate(342.50,719.00) scale(0.9,1)" font-size="11.3" text-anchor="middle" stroke-width="0.4">ER3</text>
<text transform="translate(342.50,732.10) scale(0.9,1)" font-size="11.3" text-anchor="middle" stroke-width="0.4">ED3</text>
<text transform="translate(377.68,679.70) scale(0.9,1)" font-size="11.3" text-anchor="middle" stroke-width="0.4">BD4</text>
<text transform="translate(377.68,692.80) scale(0.9,1)" font-size="11.3" text-anchor="middle" stroke-width="0.4">SR4</text>
<text transform="translate(377.68,705.90) scale(0.9,1)" font-size="11.3" text-anchor="middle" stroke-width="0.4">DR4</text>
<text transform="translate(377.68,719.00) scale(0.9,1)" font-size="11.3" text-anchor="middle" stroke-width="0.4">ER4</text>
<text transform="translate(377.68,732.10) scale(0.9,1)" font-size="11.3" text-anchor="middle" stroke-width="0.4">ED4</text>
<text transform="translate(412.85,679.70) scale(0.9,1)" font-size="11.3" text-anchor="middle" stroke-width="0.4">BD5</text>
<text transform="translate(412.85,692.80) scale(0.9,1)" font-size="11.3" text-anchor="middle" stroke-width="0.4">SR5</text>
<text transform="translate(412.85,705.90) scale(0.9,1)" font-size="11.3" text-anchor="middle" stroke-width="0.4">DR5</text>
<text transform="translate(412.85,719.00) scale(0.9,1)" font-size="11.3" text-anchor="middle" stroke-width="0.4">ER5</text>
<text transform="translate(412.85,732.10) scale(0.9,1)" font-size="11.3" text-anchor="middle" stroke-width="0.4">ED5</text>
<text transform="translate(448.02,679.70) scale(0.9,1)" font-size="11.3" text-anchor="middle" stroke-width="0.4">BD6</text>
<text transform="translate(448.02,692.80) scale(0.9,1)" font-size="11.3" text-anchor="middle" stroke-width="0.4">SR6</text>
<text transform="translate(448.02,705.90) scale(0.9,1)" font-size="11.3" text-anchor="middle" stroke-width="0.4">DR6</text>
<text transform="translate(448.02,719.00) scale(0.9,1)" font-size="11.3" text-anchor="middle" stroke-width="0.4">ER6</text>
<text transform="translate(448.02,732.10) scale(0.9,1)" font-size="11.3" text-anchor="middle" stroke-width="0.4">ED6</text>
<text transform="translate(483.19,692.80) scale(0.9,1)" font-size="11.3" text-anchor="middle" stroke-width="0.4">BA4</text>
<text transform="translate(483.19,705.90) scale(0.9,1)" font-size="11.3" text-anchor="middle" stroke-width="0.4">BS4</text>
<text transform="translate(483.19,719.00) scale(0.9,1)" font-size="11.3" text-anchor="middle" stroke-width="0.4">DA4</text>
<text transform="translate(518.36,705.90) scale(0.9,1)" font-size="11.3" text-anchor="middle" stroke-width="0.4">CA4</text>
<text transform="translate(553.53,705.90) scale(0.9,1)" font-size="11.3" text-anchor="middle" stroke-width="0.4">BJ1</text>
<text transform="translate(588.69,705.90) scale(0.9,1)" font-size="11.3" text-anchor="middle" stroke-width="0.4">BJ2</text>
<text transform="translate(623.87,699.35) scale(0.9,1)" font-size="11.3" text-anchor="middle" stroke-width="0.4">BA1</text>
<text transform="translate(623.87,712.45) scale(0.9,1)" font-size="11.3" text-anchor="middle" stroke-width="0.4">BS1</text>
<text transform="translate(659.04,699.35) scale(0.9,1)" font-size="11.3" text-anchor="middle" stroke-width="0.4">BA2</text>
<text transform="translate(659.04,712.45) scale(0.9,1)" font-size="11.3" text-anchor="middle" stroke-width="0.4">BS2</text>
<text transform="translate(694.20,679.70) scale(0.9,1)" font-size="11.3" text-anchor="middle" stroke-width="0.4">BD1</text>
<text transform="translate(694.20,692.80) scale(0.9,1)" font-size="11.3" text-anchor="middle" stroke-width="0.4">SR1</text>
<text transform="translate(694.20,705.90) scale(0.9,1)" font-size="11.3" text-anchor="middle" stroke-width="0.4">DR1</text>
<text transform="translate(694.20,719.00) scale(0.9,1)" font-size="11.3" text-anchor="middle" stroke-width="0.4">ER1</text>
<text transform="translate(694.20,732.10) scale(0.9,1)" font-size="11.3" text-anchor="middle" stroke-width="0.4">ED1</text>
<text transform="translate(729.38,679.70) scale(0.9,1)" font-size="11.3" text-anchor="middle" stroke-width="0.4">BD2</text>
<text transform="translate(729.38,692.80) scale(0.9,1)" font-size="11.3" text-anchor="middle" stroke-width="0.4">SR2</text>
<text transform="translate(729.38,705.90) scale(0.9,1)" font-size="11.3" text-anchor="middle" stroke-width="0.4">DR2</text>
<text transform="translate(729.38,719.00) scale(0.9,1)" font-size="11.3" text-anchor="middle" stroke-width="0.4">ER2</text>
<text transform="translate(729.38,732.10) scale(0.9,1)" font-size="11.3" text-anchor="middle" stroke-width="0.4">ED2</text>
<text transform="translate(764.55,679.70) scale(0.9,1)" font-size="11.3" text-anchor="middle" stroke-width="0.4">BD3</text>
<text transform="translate(764.55,692.80) scale(0.9,1)" font-size="11.3" text-anchor="middle" stroke-width="0.4">SR3</text>
<text transform="translate(764.55,705.90) scale(0.9,1)" font-size="11.3" text-anchor="middle" stroke-width="0.4">DR3</text>
<text transform="translate(764.55,719.00) scale(0.9,1)" font-size="11.3" text-anchor="middle" stroke-width="0.4">ER3</text>
<text transform="translate(764.55,732.10) scale(0.9,1)" font-size="11.3" text-anchor="middle" stroke-width="0.4">ED3</text>
<text transform="translate(799.72,679.70) scale(0.9,1)" font-size="11.3" text-anchor="middle" stroke-width="0.4">BD4</text>
<text transform="translate(799.72,692.80) scale(0.9,1)" font-size="11.3" text-anchor="middle" stroke-width="0.4">SR4</text>
<text transform="translate(799.72,705.90) scale(0.9,1)" font-size="11.3" text-anchor="middle" stroke-width="0.4">DR4</text>
<text transform="translate(799.72,719.00) scale(0.9,1)" font-size="11.3" text-anchor="middle" stroke-width="0.4">ER4</text>
<text transform="translate(799.72,732.10) scale(0.9,1)" font-size="11.3" text-anchor="middle" stroke-width="0.4">ED4</text>
<text transform="translate(834.88,679.70) scale(0.9,1)" font-size="11.3" text-anchor="middle" stroke-width="0.4">BD5</text>
<text transform="translate(834.88,692.80) scale(0.9,1)" font-size="11.3" text-anchor="middle" stroke-width="0.4">SR5</text>
<text transform="translate(834.88,705.90) scale(0.9,1)" font-size="11.3" text-anchor="middle" stroke-width="0.4">DR5</text>
<text transform="translate(834.88,719.00) scale(0.9,1)" font-size="11.3" text-anchor="middle" stroke-width="0.4">ER5</text>
<text transform="translate(834.88,732.10) scale(0.9,1)" font-size="11.3" text-anchor="middle" stroke-width="0.4">ED5</text>
<text transform="translate(870.06,679.70) scale(0.9,1)" font-size="11.3" text-anchor="middle" stroke-width="0.4">BD6</text>
<text transform="translate(870.06,692.80) scale(0.9,1)" font-size="11.3" text-anchor="middle" stroke-width="0.4">SR6</text>
<text transform="translate(870.06,705.90) scale(0.9,1)" font-size="11.3" text-anchor="middle" stroke-width="0.4">DR6</text>
<text transform="translate(870.06,719.00) scale(0.9,1)" font-size="11.3" text-anchor="middle" stroke-width="0.4">ER6</text>
<text transform="translate(870.06,732.10) scale(0.9,1)" font-size="11.3" text-anchor="middle" stroke-width="0.4">ED6</text>
<text transform="translate(905.23,692.80) scale(0.9,1)" font-size="11.3" text-anchor="middle" stroke-width="0.4">BA4</text>
<text transform="translate(905.23,705.90) scale(0.9,1)" font-size="11.3" text-anchor="middle" stroke-width="0.4">BS4</text>
<text transform="translate(905.23,719.00) scale(0.9,1)" font-size="11.3" text-anchor="middle" stroke-width="0.4">DA4</text>
<text transform="translate(940.39,705.90) scale(0.9,1)" font-size="11.3" text-anchor="middle" stroke-width="0.4">CA4</text>
<text x="81.90" y="758.80" font-size="11" text-anchor="middle">L</text>
<text x="254.18" y="758.70" font-size="11" text-anchor="middle">370</text>
<text x="412.45" y="758.70" font-size="11" text-anchor="middle">700</text>
<text x="465.20" y="758.70" font-size="11" text-anchor="middle">750</text>
<text x="517.96" y="758.70" font-size="11" text-anchor="middle">755</text>
<text x="676.22" y="758.70" font-size="11" text-anchor="middle">400</text>
<text x="834.49" y="758.70" font-size="11" text-anchor="middle">750</text>
<text x="904.83" y="758.70" font-size="11" text-anchor="middle">800</text>
<text x="81.90" y="775.89" font-size="11" text-anchor="middle">C</text>
<text x="324.52" y="775.79" font-size="11" text-anchor="middle">230.8</text>
<text x="746.56" y="775.79" font-size="11" text-anchor="middle">276.2</text>
<text x="81.90" y="793.06" font-size="11" text-anchor="middle">D</text>
<text x="131.09" y="792.96" font-size="11" text-anchor="middle">400</text>
<text x="166.25" y="792.96" font-size="11" text-anchor="middle">430</text>
<text x="201.43" y="792.96" font-size="11" text-anchor="middle">406.4</text>
<text x="236.59" y="792.96" font-size="11" text-anchor="middle">444.5</text>
<text x="271.77" y="792.96" font-size="11" text-anchor="middle">395</text>
<text x="306.94" y="792.96" font-size="11" text-anchor="middle">405</text>
<text x="342.11" y="792.96" font-size="11" text-anchor="middle">425</text>
<text x="377.28" y="792.96" font-size="11" text-anchor="middle">450</text>
<text x="412.45" y="792.96" font-size="11" text-anchor="middle">470</text>
<text x="447.62" y="792.96" font-size="11" text-anchor="middle">505</text>
<text x="482.79" y="792.96" font-size="11" text-anchor="middle">508</text>
<text x="517.96" y="792.96" font-size="11" text-anchor="middle">508</text>
<text x="553.13" y="792.96" font-size="11" text-anchor="middle">445</text>
<text x="588.29" y="792.96" font-size="11" text-anchor="middle">480</text>
<text x="623.47" y="792.96" font-size="11" text-anchor="middle">482.6</text>
<text x="658.64" y="792.96" font-size="11" text-anchor="middle">520.7</text>
<text x="693.80" y="792.96" font-size="11" text-anchor="middle">445</text>
<text x="728.98" y="792.96" font-size="11" text-anchor="middle">460</text>
<text x="764.15" y="792.96" font-size="11" text-anchor="middle">485</text>
<text x="799.32" y="792.96" font-size="11" text-anchor="middle">515</text>
<text x="834.49" y="792.96" font-size="11" text-anchor="middle">530</text>
<text x="869.66" y="792.96" font-size="11" text-anchor="middle">585</text>
<text x="904.83" y="792.96" font-size="11" text-anchor="middle">558.8</text>
<text x="940.00" y="792.96" font-size="11" text-anchor="middle">558.8</text>
<text x="81.90" y="810.23" font-size="11" text-anchor="middle">H</text>
<text x="131.09" y="810.12" font-size="11" text-anchor="middle">581</text>
<text x="166.25" y="810.12" font-size="11" text-anchor="middle">596</text>
<text x="201.43" y="810.12" font-size="11" text-anchor="middle">584</text>
<text x="236.59" y="810.12" font-size="11" text-anchor="middle">603</text>
<text x="271.77" y="810.12" font-size="11" text-anchor="middle">578</text>
<text x="306.94" y="810.12" font-size="11" text-anchor="middle">583</text>
<text x="342.11" y="810.12" font-size="11" text-anchor="middle">593</text>
<text x="377.28" y="810.12" font-size="11" text-anchor="middle">606</text>
<text x="412.45" y="810.12" font-size="11" text-anchor="middle">615</text>
<text x="447.62" y="810.12" font-size="11" text-anchor="middle">633</text>
<text x="482.79" y="810.12" font-size="11" text-anchor="middle">634.5</text>
<text x="517.96" y="810.12" font-size="11" text-anchor="middle">634.5</text>
<text x="553.13" y="810.12" font-size="11" text-anchor="middle">633</text>
<text x="588.29" y="810.12" font-size="11" text-anchor="middle">651</text>
<text x="623.47" y="810.12" font-size="11" text-anchor="middle">652</text>
<text x="658.64" y="810.12" font-size="11" text-anchor="middle">671</text>
<text x="693.80" y="810.12" font-size="11" text-anchor="middle">633</text>
<text x="728.98" y="810.12" font-size="11" text-anchor="middle">640.5</text>
<text x="764.15" y="810.12" font-size="11" text-anchor="middle">653</text>
<text x="799.32" y="810.12" font-size="11" text-anchor="middle">668</text>
<text x="834.49" y="810.12" font-size="11" text-anchor="middle">676</text>
<text x="869.66" y="810.12" font-size="11" text-anchor="middle">703</text>
<text x="904.83" y="810.12" font-size="11" text-anchor="middle">689.9</text>
<text x="940.00" y="810.12" font-size="11" text-anchor="middle">689.9</text>
<text x="81.90" y="827.40" font-size="11" text-anchor="middle">H1</text>
<text x="324.52" y="827.30" font-size="11" text-anchor="middle">277</text>
<text x="746.56" y="827.30" font-size="11" text-anchor="middle">307</text>
<text x="81.90" y="844.57" font-size="11" text-anchor="middle">T</text>
<text x="131.09" y="844.47" font-size="11" text-anchor="middle">25</text>
<text x="166.25" y="844.47" font-size="11" text-anchor="middle">35</text>
<text x="201.43" y="844.47" font-size="11" text-anchor="middle">31.2</text>
<text x="236.59" y="844.47" font-size="11" text-anchor="middle">48.8</text>
<text x="271.77" y="844.47" font-size="11" text-anchor="middle">26</text>
<text x="306.94" y="844.47" font-size="11" text-anchor="middle">26</text>
<text x="342.11" y="844.47" font-size="11" text-anchor="middle">32</text>
<text x="377.28" y="844.47" font-size="11" text-anchor="middle">38</text>
<text x="412.45" y="844.47" font-size="11" text-anchor="middle">46</text>
<text x="447.62" y="844.47" font-size="11" text-anchor="middle">60</text>
<text x="482.79" y="844.47" font-size="11" text-anchor="middle">63.5</text>
<text x="517.96" y="844.47" font-size="11" text-anchor="middle">71.4</text>
<text x="553.13" y="844.47" font-size="11" text-anchor="middle">25</text>
<text x="588.29" y="844.47" font-size="11" text-anchor="middle">37</text>
<text x="623.47" y="844.47" font-size="11" text-anchor="middle">32.8</text>
<text x="658.64" y="844.47" font-size="11" text-anchor="middle">51.8</text>
<text x="693.80" y="844.47" font-size="11" text-anchor="middle">26</text>
<text x="728.98" y="844.47" font-size="11" text-anchor="middle">26</text>
<text x="764.15" y="844.47" font-size="11" text-anchor="middle">34</text>
<text x="799.32" y="844.47" font-size="11" text-anchor="middle">42</text>
<text x="834.49" y="844.47" font-size="11" text-anchor="middle">52</text>
<text x="869.66" y="844.47" font-size="11" text-anchor="middle">68</text>
<text x="904.83" y="844.47" font-size="11" text-anchor="middle">72.9</text>
<text x="940.00" y="844.47" font-size="11" text-anchor="middle">74.4</text>
<text x="81.90" y="861.74" font-size="11" text-anchor="middle">J</text>
<text x="131.09" y="861.63" font-size="11" text-anchor="middle">355</text>
<text x="166.25" y="861.63" font-size="11" text-anchor="middle">380</text>
<text x="201.43" y="861.63" font-size="11" text-anchor="middle">362</text>
<text x="236.59" y="861.63" font-size="11" text-anchor="middle">387.4</text>
<text x="271.77" y="861.63" font-size="11" text-anchor="middle">350</text>
<text x="306.94" y="861.63" font-size="11" text-anchor="middle">355</text>
<text x="342.11" y="861.63" font-size="11" text-anchor="middle">370</text>
<text x="377.28" y="861.63" font-size="11" text-anchor="middle">385</text>
<text x="412.45" y="861.63" font-size="11" text-anchor="middle">400</text>
<text x="447.62" y="861.63" font-size="11" text-anchor="middle">430</text>
<text x="482.79" y="861.63" font-size="11" text-anchor="middle">431.8</text>
<text x="517.96" y="861.63" font-size="11" text-anchor="middle">431.8</text>
<text x="553.13" y="861.63" font-size="11" text-anchor="middle">400</text>
<text x="588.29" y="861.63" font-size="11" text-anchor="middle">430</text>
<text x="623.47" y="861.63" font-size="11" text-anchor="middle">431.8</text>
<text x="658.64" y="861.63" font-size="11" text-anchor="middle">450.9</text>
<text x="693.80" y="861.63" font-size="11" text-anchor="middle">400</text>
<text x="728.98" y="861.63" font-size="11" text-anchor="middle">410</text>
<text x="764.15" y="861.63" font-size="11" text-anchor="middle">430</text>
<text x="799.32" y="861.63" font-size="11" text-anchor="middle">450</text>
<text x="834.49" y="861.63" font-size="11" text-anchor="middle">460</text>
<text x="869.66" y="861.63" font-size="11" text-anchor="middle">500</text>
<text x="904.83" y="861.63" font-size="11" text-anchor="middle">489</text>
<text x="940.00" y="861.63" font-size="11" text-anchor="middle">489</text>
<text x="81.90" y="878.91" font-size="11" text-anchor="middle">N</text>
<text x="131.09" y="878.81" font-size="11" text-anchor="middle">12</text>
<text x="166.25" y="878.81" font-size="11" text-anchor="middle">12</text>
<text x="201.43" y="878.81" font-size="11" text-anchor="middle">12</text>
<text x="236.59" y="878.81" font-size="11" text-anchor="middle">16</text>
<text x="271.77" y="878.81" font-size="11" text-anchor="middle">12</text>
<text x="306.94" y="878.81" font-size="11" text-anchor="middle">12</text>
<text x="342.11" y="878.81" font-size="11" text-anchor="middle">12</text>
<text x="377.28" y="878.81" font-size="11" text-anchor="middle">12</text>
<text x="412.45" y="878.81" font-size="11" text-anchor="middle">12</text>
<text x="447.62" y="878.81" font-size="11" text-anchor="middle">12</text>
<text x="482.79" y="878.81" font-size="11" text-anchor="middle">16</text>
<text x="517.96" y="878.81" font-size="11" text-anchor="middle">16</text>
<text x="553.13" y="878.81" font-size="11" text-anchor="middle">16</text>
<text x="588.29" y="878.81" font-size="11" text-anchor="middle">16</text>
<text x="623.47" y="878.81" font-size="11" text-anchor="middle">12</text>
<text x="658.64" y="878.81" font-size="11" text-anchor="middle">16</text>
<text x="693.80" y="878.81" font-size="11" text-anchor="middle">12</text>
<text x="728.98" y="878.81" font-size="11" text-anchor="middle">12</text>
<text x="764.15" y="878.81" font-size="11" text-anchor="middle">16</text>
<text x="799.32" y="878.81" font-size="11" text-anchor="middle">16</text>
<text x="834.49" y="878.81" font-size="11" text-anchor="middle">16</text>
<text x="869.66" y="878.81" font-size="11" text-anchor="middle">16</text>
<text x="904.83" y="878.81" font-size="11" text-anchor="middle">20</text>
<text x="940.00" y="878.81" font-size="11" text-anchor="middle">20</text>
<text x="81.90" y="896.08" font-size="11" text-anchor="middle">G</text>
<text x="131.09" y="895.98" font-size="11" text-anchor="middle">25</text>
<text x="166.25" y="895.98" font-size="11" text-anchor="middle">27</text>
<text x="201.43" y="895.98" font-size="11" text-anchor="middle">25.4</text>
<text x="236.59" y="895.98" font-size="11" text-anchor="middle">28.5</text>
<text x="271.77" y="895.98" font-size="11" text-anchor="middle">22</text>
<text x="306.94" y="895.98" font-size="11" text-anchor="middle">26</text>
<text x="342.11" y="895.98" font-size="11" text-anchor="middle">30</text>
<text x="377.28" y="895.98" font-size="11" text-anchor="middle">33</text>
<text x="412.45" y="895.98" font-size="11" text-anchor="middle">36</text>
<text x="447.62" y="895.98" font-size="11" text-anchor="middle">39</text>
<text x="482.79" y="895.98" font-size="11" text-anchor="middle">35.1</text>
<text x="517.96" y="895.98" font-size="11" text-anchor="middle">35.1</text>
<text x="553.13" y="895.98" font-size="11" text-anchor="middle">25</text>
<text x="588.29" y="895.98" font-size="11" text-anchor="middle">27</text>
<text x="623.47" y="895.98" font-size="11" text-anchor="middle">25.4</text>
<text x="658.64" y="895.98" font-size="11" text-anchor="middle">31.8</text>
<text x="693.80" y="895.98" font-size="11" text-anchor="middle">22</text>
<text x="728.98" y="895.98" font-size="11" text-anchor="middle">26</text>
<text x="764.15" y="895.98" font-size="11" text-anchor="middle">30</text>
<text x="799.32" y="895.98" font-size="11" text-anchor="middle">33</text>
<text x="834.49" y="895.98" font-size="11" text-anchor="middle">36</text>
<text x="869.66" y="895.98" font-size="11" text-anchor="middle">42</text>
<text x="904.83" y="895.98" font-size="11" text-anchor="middle">35.1</text>
<text x="940.00" y="895.98" font-size="11" text-anchor="middle">35.1</text>
<text x="81.90" y="914.45" font-size="10.5" text-anchor="middle">重量<tspan font-size="9.5">kg</tspan></text>
<text x="131.09" y="913.14" font-size="11" text-anchor="middle">78</text>
<text x="166.25" y="913.14" font-size="11" text-anchor="middle">100</text>
<text x="201.43" y="913.14" font-size="11" text-anchor="middle">90</text>
<text x="236.59" y="913.14" font-size="11" text-anchor="middle">125</text>
<text x="271.77" y="913.14" font-size="11" text-anchor="middle">78</text>
<text x="306.94" y="913.14" font-size="11" text-anchor="middle">80</text>
<text x="342.11" y="913.14" font-size="11" text-anchor="middle">110</text>
<text x="377.28" y="913.14" font-size="11" text-anchor="middle">134</text>
<text x="412.45" y="913.14" font-size="11" text-anchor="middle">196</text>
<text x="447.62" y="913.14" font-size="11" text-anchor="middle">247</text>
<text x="482.79" y="913.14" font-size="11" text-anchor="middle">254</text>
<text x="517.96" y="913.14" font-size="11" text-anchor="middle">255</text>
<text x="553.13" y="913.14" font-size="11" text-anchor="middle">100</text>
<text x="588.29" y="913.14" font-size="11" text-anchor="middle">128</text>
<text x="623.47" y="913.14" font-size="11" text-anchor="middle">140</text>
<text x="658.64" y="913.14" font-size="11" text-anchor="middle">178</text>
<text x="693.80" y="913.14" font-size="11" text-anchor="middle">101</text>
<text x="728.98" y="913.14" font-size="11" text-anchor="middle">110</text>
<text x="764.15" y="913.14" font-size="11" text-anchor="middle">137</text>
<text x="799.32" y="913.14" font-size="11" text-anchor="middle">186</text>
<text x="834.49" y="913.14" font-size="11" text-anchor="middle">276</text>
<text x="869.66" y="913.14" font-size="11" text-anchor="middle">356</text>
<text x="904.83" y="913.14" font-size="11" text-anchor="middle">340</text>
<text x="940.00" y="913.14" font-size="11" text-anchor="middle">340</text></g>
<path d="M49.70 951.20H352.98M49.70 968.40H352.98M49.70 985.40H352.98M49.70 1075.00H352.98M49.70 1092.00H352.98M49.70 1109.17H352.98M49.70 1126.34H352.98M49.70 1143.51H352.98M49.70 1160.68H352.98M49.70 1177.85H352.98M49.70 1195.02H352.98M49.70 1212.19H352.98M49.70 1229.36H352.98M49.70 1246.53H352.98M50.20 951.20V1246.53M114.40 951.20V1246.53M352.48 951.20V1246.53M154.08 985.40V1075.00M193.76 985.40V1075.00M233.44 985.40V1075.00M273.12 985.40V1075.00M312.80 985.40V1075.00M154.08 1109.17V1126.34M193.76 1109.17V1126.34M233.44 1109.17V1126.34M273.12 1109.17V1126.34M312.80 1109.17V1126.34M154.08 1126.34V1143.51M193.76 1126.34V1143.51M233.44 1126.34V1143.51M273.12 1126.34V1143.51M312.80 1126.34V1143.51M154.08 1160.68V1177.85M193.76 1160.68V1177.85M233.44 1160.68V1177.85M273.12 1160.68V1177.85M312.80 1160.68V1177.85M154.08 1177.85V1195.02M193.76 1177.85V1195.02M233.44 1177.85V1195.02M273.12 1177.85V1195.02M312.80 1177.85V1195.02M154.08 1195.02V1212.19M193.76 1195.02V1212.19M233.44 1195.02V1212.19M273.12 1195.02V1212.19M312.80 1195.02V1212.19M154.08 1212.19V1229.36M193.76 1212.19V1229.36M233.44 1212.19V1229.36M273.12 1212.19V1229.36M312.80 1212.19V1229.36M154.08 1229.36V1246.53M193.76 1229.36V1246.53M233.44 1229.36V1246.53M273.12 1229.36V1246.53M312.80 1229.36V1246.53" fill="none" stroke="#2b2728" stroke-width="1.15"/>
<g stroke="#2b2728" stroke-width="0.25"><text x="81.80" y="963.90" font-size="10.5" text-anchor="middle">型号</text>
<text x="232.54" y="963.90" font-size="11" text-anchor="middle">一体型/分离型</text>
<text x="81.80" y="981.00" font-size="10.5" text-anchor="middle">代码</text>
<text x="233.54" y="979.70" font-size="11" text-anchor="middle">DY400(400<tspan font-size="9">mm</tspan>)</text>
<text x="82.30" y="1027.35" font-size="10.5" text-anchor="middle">管道</text>
<text x="82.30" y="1040.45" font-size="10.5" text-anchor="middle">连接</text>
<text transform="translate(133.74,1033.50) scale(0.9,1)" font-size="11.3" text-anchor="middle" stroke-width="0.4">BJ1</text>
<text transform="translate(173.42,1033.50) scale(0.9,1)" font-size="11.3" text-anchor="middle" stroke-width="0.4">BJ2</text>
<text transform="translate(213.10,1026.95) scale(0.9,1)" font-size="11.3" text-anchor="middle" stroke-width="0.4">BA1</text>
<text transform="translate(213.10,1040.05) scale(0.9,1)" font-size="11.3" text-anchor="middle" stroke-width="0.4">BS1</text>
<text transform="translate(252.78,1026.95) scale(0.9,1)" font-size="11.3" text-anchor="middle" stroke-width="0.4">BA2</text>
<text transform="translate(252.78,1040.05) scale(0.9,1)" font-size="11.3" text-anchor="middle" stroke-width="0.4">BS2</text>
<text transform="translate(292.46,1007.30) scale(0.9,1)" font-size="11.3" text-anchor="middle" stroke-width="0.4">BD3</text>
<text transform="translate(292.46,1020.40) scale(0.9,1)" font-size="11.3" text-anchor="middle" stroke-width="0.4">SR3</text>
<text transform="translate(292.46,1033.50) scale(0.9,1)" font-size="11.3" text-anchor="middle" stroke-width="0.4">DR3</text>
<text transform="translate(292.46,1046.60) scale(0.9,1)" font-size="11.3" text-anchor="middle" stroke-width="0.4">ER3</text>
<text transform="translate(292.46,1059.70) scale(0.9,1)" font-size="11.3" text-anchor="middle" stroke-width="0.4">ED3</text>
<text transform="translate(332.14,1007.30) scale(0.9,1)" font-size="11.3" text-anchor="middle" stroke-width="0.4">BD4</text>
<text transform="translate(332.14,1020.40) scale(0.9,1)" font-size="11.3" text-anchor="middle" stroke-width="0.4">SR4</text>
<text transform="translate(332.14,1033.50) scale(0.9,1)" font-size="11.3" text-anchor="middle" stroke-width="0.4">DR4</text>
<text transform="translate(332.14,1046.60) scale(0.9,1)" font-size="11.3" text-anchor="middle" stroke-width="0.4">ER4</text>
<text transform="translate(332.14,1059.70) scale(0.9,1)" font-size="11.3" text-anchor="middle" stroke-width="0.4">ED4</text>
<text x="81.80" y="1086.40" font-size="11" text-anchor="middle">L</text>
<text x="232.54" y="1086.30" font-size="11" text-anchor="middle">520</text>
<text x="81.80" y="1103.49" font-size="11" text-anchor="middle">C</text>
<text x="232.54" y="1103.38" font-size="11" text-anchor="middle">354.2</text>
<text x="81.80" y="1120.66" font-size="11" text-anchor="middle">D</text>
<text x="133.34" y="1120.56" font-size="11" text-anchor="middle">560</text>
<text x="173.02" y="1120.56" font-size="11" text-anchor="middle">605</text>
<text x="212.70" y="1120.56" font-size="11" text-anchor="middle">596.9</text>
<text x="252.38" y="1120.56" font-size="11" text-anchor="middle">647.7</text>
<text x="292.06" y="1120.56" font-size="11" text-anchor="middle">620</text>
<text x="331.74" y="1120.56" font-size="11" text-anchor="middle">660</text>
<text x="81.80" y="1137.83" font-size="11" text-anchor="middle">H</text>
<text x="133.34" y="1137.72" font-size="11" text-anchor="middle">757.5</text>
<text x="173.02" y="1137.72" font-size="11" text-anchor="middle">780</text>
<text x="212.70" y="1137.72" font-size="11" text-anchor="middle">776</text>
<text x="252.38" y="1137.72" font-size="11" text-anchor="middle">801</text>
<text x="292.06" y="1137.72" font-size="11" text-anchor="middle">787.5</text>
<text x="331.74" y="1137.72" font-size="11" text-anchor="middle">807.5</text>
<text x="81.80" y="1155.00" font-size="11" text-anchor="middle">H1</text>
<text x="232.54" y="1154.89" font-size="11" text-anchor="middle">374</text>
<text x="81.80" y="1172.16" font-size="11" text-anchor="middle">T</text>
<text x="133.34" y="1172.06" font-size="11" text-anchor="middle">28</text>
<text x="173.02" y="1172.06" font-size="11" text-anchor="middle">46</text>
<text x="212.70" y="1172.06" font-size="11" text-anchor="middle">36.6</text>
<text x="252.38" y="1172.06" font-size="11" text-anchor="middle">57.2</text>
<text x="292.06" y="1172.06" font-size="11" text-anchor="middle">40</text>
<text x="331.74" y="1172.06" font-size="11" text-anchor="middle">50</text>
<text x="81.80" y="1189.34" font-size="11" text-anchor="middle">J</text>
<text x="133.34" y="1189.23" font-size="11" text-anchor="middle">510</text>
<text x="173.02" y="1189.23" font-size="11" text-anchor="middle">540</text>
<text x="212.70" y="1189.23" font-size="11" text-anchor="middle">539.8</text>
<text x="252.38" y="1189.23" font-size="11" text-anchor="middle">571.5</text>
<text x="292.06" y="1189.23" font-size="11" text-anchor="middle">550</text>
<text x="331.74" y="1189.23" font-size="11" text-anchor="middle">585</text>
<text x="81.80" y="1206.51" font-size="11" text-anchor="middle">N</text>
<text x="133.34" y="1206.40" font-size="11" text-anchor="middle">16</text>
<text x="173.02" y="1206.40" font-size="11" text-anchor="middle">16</text>
<text x="212.70" y="1206.40" font-size="11" text-anchor="middle">16</text>
<text x="252.38" y="1206.40" font-size="11" text-anchor="middle">20</text>
<text x="292.06" y="1206.40" font-size="11" text-anchor="middle">16</text>
<text x="331.74" y="1206.40" font-size="11" text-anchor="middle">16</text>
<text x="81.80" y="1223.68" font-size="11" text-anchor="middle">G</text>
<text x="133.34" y="1223.58" font-size="11" text-anchor="middle">27</text>
<text x="173.02" y="1223.58" font-size="11" text-anchor="middle">33</text>
<text x="212.70" y="1223.58" font-size="11" text-anchor="middle">28.5</text>
<text x="252.38" y="1223.58" font-size="11" text-anchor="middle">35.1</text>
<text x="292.06" y="1223.58" font-size="11" text-anchor="middle">36</text>
<text x="331.74" y="1223.58" font-size="11" text-anchor="middle">36</text>
<text x="81.80" y="1242.05" font-size="10.5" text-anchor="middle">重量<tspan font-size="9.5">kg</tspan></text>
<text x="133.34" y="1240.75" font-size="11" text-anchor="middle">240</text>
<text x="173.02" y="1240.75" font-size="11" text-anchor="middle">305</text>
<text x="212.70" y="1240.75" font-size="11" text-anchor="middle">275</text>
<text x="252.38" y="1240.75" font-size="11" text-anchor="middle">360</text>
<text x="292.06" y="1240.75" font-size="11" text-anchor="middle">307</text>
<text x="331.74" y="1240.75" font-size="11" text-anchor="middle">354</text></g>
</svg>
<div class="abs title"><span style="font-size:17.6px;letter-spacing:0px">法兰型</span>(250~400mm)</div>
<div class="abs unit">单位：mm</div>
<div class="abs notes">(注1)一体型的重量与分离型的重量相等<br>(注2)如带显示器，另加0.2kg<br>(注3)选项规格为/CRC时，流向相反(面对显示器流向为从右到左)</div>
<div class="abs pg">29</div>
</div>
</body></html>
